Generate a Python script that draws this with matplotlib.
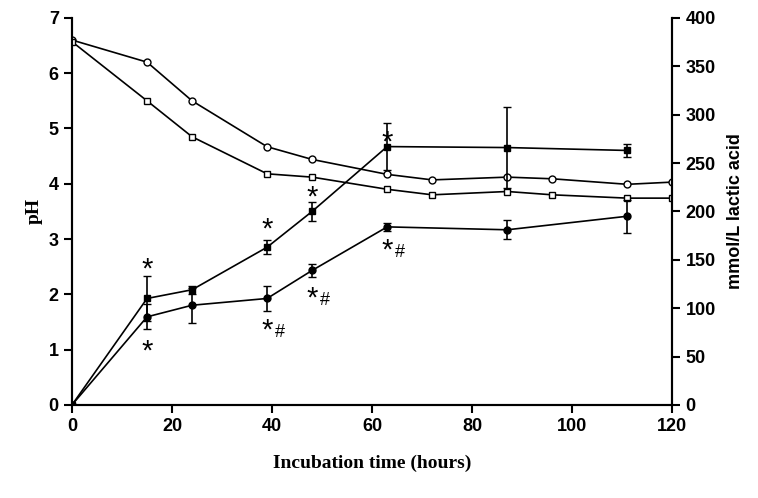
import numpy as np
import matplotlib.pyplot as plt

# pH data
t_ph = [0, 15, 24, 39, 48, 63, 72, 87, 96, 111, 120]
ph_circle = [6.6, 6.2, 5.5, 4.67, 4.44, 4.17, 4.07, 4.12, 4.09, 3.99, 4.03]
ph_square = [6.57, 5.5, 4.85, 4.18, 4.12, 3.9, 3.8, 3.86, 3.8, 3.74, 3.74]

# lactic acid data
t_la = [0, 15, 24, 39, 48, 63, 87, 111]
la_square = [0, 110, 119, 163, 200, 267, 266, 263]
la_square_err = [0, 23, 4, 7, 10, 24, 42, 7]
la_circle = [0, 91, 103, 110, 139, 184, 181, 195]
la_circle_err = [0, 13, 18, 13, 7, 4, 10, 17]

fig = plt.figure(figsize=(7.58, 4.98), dpi=100)
ax = fig.add_axes([0.095, 0.187, 0.792, 0.777])
ax2 = ax.twinx()

ax.plot(t_ph, ph_circle, '-o', color='black', mfc='white', ms=5, lw=1.2)
ax.plot(t_ph, ph_square, '-s', color='black', mfc='white', ms=5, lw=1.2)
ax2.errorbar(t_la, la_square, yerr=la_square_err, fmt='-s', color='black', ms=5, lw=1.2, capsize=3)
ax2.errorbar(t_la, la_circle, yerr=la_circle_err, fmt='-o', color='black', ms=5, lw=1.2, capsize=3)

ax.set_xlim(0, 120)
ax.set_ylim(0, 7)
ax2.set_ylim(0, 400)
ax.set_xticks(range(0, 121, 20))
ax.set_yticks(range(0, 8))
ax2.set_yticks(range(0, 401, 50))

for a in (ax, ax2):
    for lab in a.get_xticklabels() + a.get_yticklabels():
        lab.set_fontfamily('Liberation Sans')
        lab.set_fontweight('bold')
        lab.set_fontsize(13)
    a.spines['top'].set_visible(False)
    for s in a.spines.values():
        s.set_linewidth(1.5)
    a.tick_params(width=1.5, length=6)

ax.set_xlabel('Incubation time (hours)', family='Liberation Serif', weight='bold', size=14, labelpad=14)
ax.set_ylabel('pH', family='Liberation Serif', weight='bold', size=14)
ax2.set_ylabel('mmol/L lactic acid', family='Liberation Sans', weight='bold', size=13, labelpad=8)

star = dict(family='Liberation Sans', size=21, ha='center', va='center')
for x, y in [(15, 140), (39, 181), (48, 214), (63, 271)]:
    ax2.text(x, y, '*', **star)
ax2.text(15, 55, '*', **star)
for x, y in [(39, 77), (48, 110), (63, 160)]:
    ax2.text(x, y, '*', **star)
    ax2.text(x + 2.6, y - 2, '#', family='Liberation Sans', size=13, ha='center', va='center')

fig.savefig('out.png', dpi=100)
